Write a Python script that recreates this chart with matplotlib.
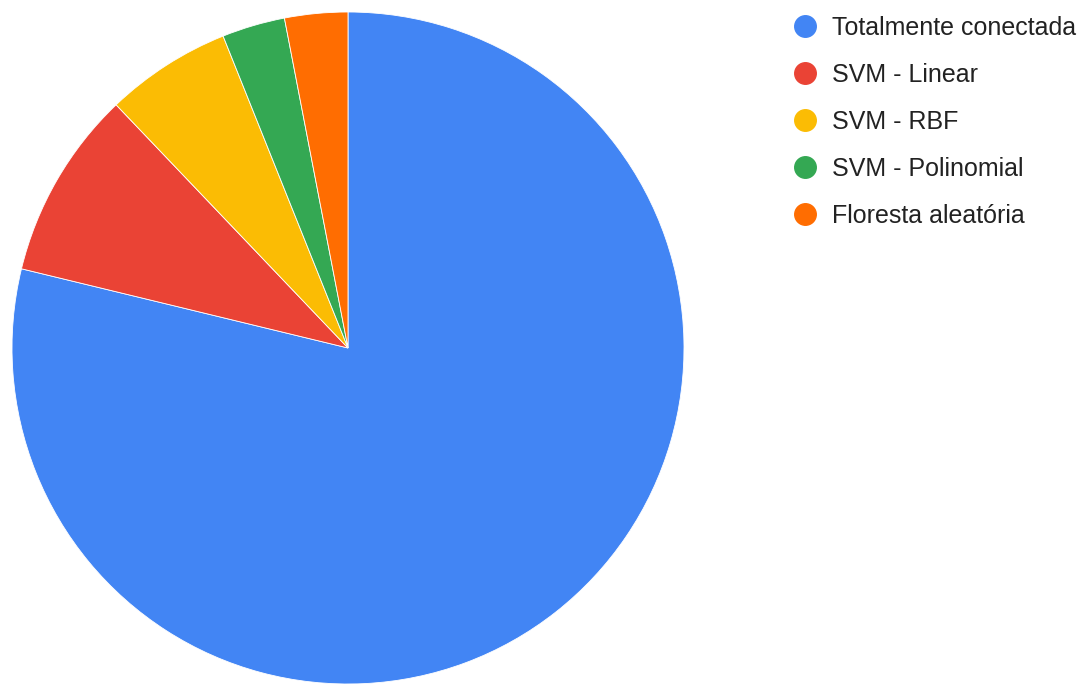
import matplotlib.pyplot as plt
from matplotlib.lines import Line2D

plt.rcParams['font.family'] = ['Liberation Sans', 'DejaVu Sans']

# model counts per category
labels = ['Totalmente conectada', 'SVM - Linear', 'SVM - RBF',
          'SVM - Polinomial', 'Floresta aleatória']
values = [26, 3, 2, 1, 1]
colors = ['#4285f4', '#ea4335', '#fbbc04', '#34a853', '#ff6d01']

W, H = 1090, 684
fig = plt.figure(figsize=(W / 100, H / 100), dpi=100)

# pie area: square of 672 px, left edge at 12 px
ax = fig.add_axes([12 / W, 0 / H, 672 / W, 672 / H])
ax.pie(values, colors=colors, startangle=90, counterclock=False, radius=1,
       wedgeprops=dict(edgecolor='white', linewidth=0.6))
ax.set_xlim(-1, 1)
ax.set_ylim(-1, 1)
ax.set_aspect('equal')
ax.axis('off')

handles = [Line2D([], [], linestyle='none', marker='o', markersize=15.5,
                  markerfacecolor=c, markeredgecolor=c) for c in colors]
fig.legend(handles, labels, loc='upper left',
           bbox_to_anchor=(794 / W, 1 - 16 / H), frameon=False,
           fontsize=18, labelcolor='#222222', handlelength=0.9,
           handletextpad=0.6, labelspacing=0.92, borderpad=0, borderaxespad=0)

fig.savefig('out.png', dpi=100, facecolor='white')
